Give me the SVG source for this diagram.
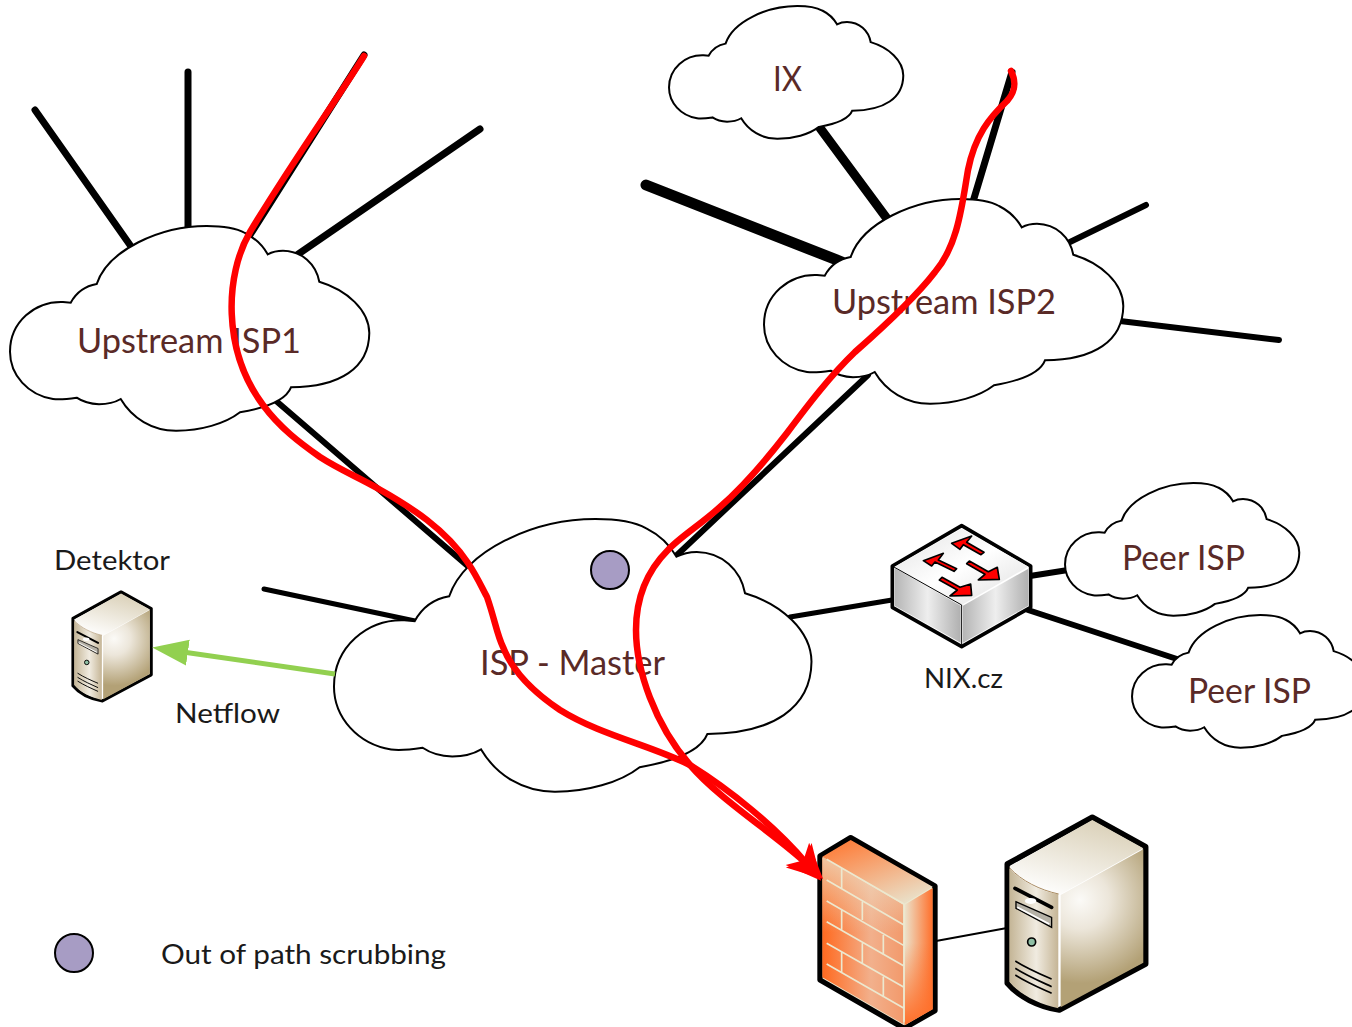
<svg xmlns="http://www.w3.org/2000/svg" width="1352" height="1027" viewBox="0 0 1352 1027">
<style>
.lbl{font-family:"Lato","Liberation Sans",sans-serif;font-size:35px;fill:#5a2a27}
.sm{font-family:"Lato","Liberation Sans",sans-serif;font-size:27px;fill:#1a1a1a}
.cl{fill:#fff;stroke:#000;stroke-width:2;vector-effect:non-scaling-stroke}
.k{stroke:#000;fill:none;stroke-linecap:round}
.red{stroke:#f00;stroke-width:6.5;fill:none;stroke-linecap:round;marker-end:url(#ra)}
.brick{stroke:#ece8cf;stroke-width:5;fill:none}
.dot{fill:#a79cc4;stroke:#000;stroke-width:2}
.sa{fill:#f00;stroke:#000;stroke-width:5;stroke-linejoin:round}
</style>
<defs>
<path id="cloud" class="cl" d="M70.7,302.7C76,293 85,286 96.7,284C108,250 160,226 206.7,226C222,226 236,228 245,233C255,238 263,246 267.7,254.3C272,252 278,250.7 283,250.7C302,251 316,264 319.3,281.7C347,290 369,310 369.3,333C369,368 340,387 291,387.3C286,400 265,408 240,412.3C225,424 200,430.7 176.7,430.7C152,431 132,418 120.7,399C114,403 106,404.3 99,404.3C90,404 83,402 76.7,397.7C68,399 60,400 53,399C28,395 10,375 10,351.7C10,322 35,301 63,302Z"/>
<marker id="ra" markerUnits="userSpaceOnUse" markerWidth="54" markerHeight="44" refX="13" refY="20" orient="auto" viewBox="0 0 54 44"><path d="M0,3L35,20L0,37L8,20Z" fill="#f00"/></marker>
<marker id="ga" markerUnits="userSpaceOnUse" markerWidth="50" markerHeight="40" refX="12" refY="14" orient="auto" viewBox="0 0 50 40"><path d="M0,1L36,14L0,27Z" fill="#92d050"/></marker>
<linearGradient id="svTop" x1="0.75" y1="0" x2="0.25" y2="1"><stop offset="0" stop-color="#d9cfb6"/><stop offset="1" stop-color="#fff"/></linearGradient>
<linearGradient id="svFront" x1="0" y1="0" x2="1" y2="0"><stop offset="0" stop-color="#c4b596"/><stop offset="0.55" stop-color="#f0ebe0"/><stop offset="1" stop-color="#c5b596"/></linearGradient>
<radialGradient id="svRight" gradientUnits="userSpaceOnUse" cx="900" cy="300" r="250"><stop offset="0" stop-color="#fbfaf7"/><stop offset="0.35" stop-color="#ece6da"/><stop offset="1" stop-color="#b3a176"/></radialGradient>
<linearGradient id="fwFront" x1="0" y1="0" x2="1" y2="0"><stop offset="0" stop-color="#ff6a20"/><stop offset="0.6" stop-color="#f2b08c"/><stop offset="1" stop-color="#f29a6c"/></linearGradient>
<linearGradient id="fwFade" x1="0" y1="0" x2="0" y2="1"><stop offset="0" stop-color="#ece4cc" stop-opacity=".75"/><stop offset="0.45" stop-color="#ece4cc" stop-opacity="0"/></linearGradient>
<linearGradient id="fwTop" x1="0.15" y1="0" x2="0.8" y2="1"><stop offset="0" stop-color="#ff7a35"/><stop offset="1" stop-color="#e9e3cd"/></linearGradient>
<linearGradient id="fwRight" x1="0" y1="0" x2="1" y2="0"><stop offset="0" stop-color="#ece3cc"/><stop offset="1" stop-color="#ff6f2a"/></linearGradient>
<linearGradient id="fwRight2" x1="0" y1="0" x2="0" y2="1"><stop offset="0.4" stop-color="#ff6f2a" stop-opacity="0"/><stop offset="1" stop-color="#ff6f2a"/></linearGradient>
<linearGradient id="swTop" x1="0" y1="0" x2="1" y2="1"><stop offset="0" stop-color="#e2e2e2"/><stop offset="0.5" stop-color="#fff"/><stop offset="1" stop-color="#ddd"/></linearGradient>
<linearGradient id="swSide" x1="0" y1="0" x2="1" y2="0"><stop offset="0" stop-color="#b5b5b5"/><stop offset="0.5" stop-color="#eee"/><stop offset="1" stop-color="#b0b0b0"/></linearGradient>
<g id="srv">
<path d="M682,192L937,52L1097,140V492L838,630C775,620 715,590 682,550Z" fill="#fff" stroke="#000" stroke-width="17" stroke-linejoin="round"/>
<path d="M688,200L937,60L1090,145L838,285C780,270 725,240 688,200Z" fill="url(#svTop)"/>
<path d="M688,205C725,245 780,272 835,283V625C775,612 720,585 688,545Z" fill="url(#svFront)"/>
<path d="M688,203C725,243 780,270 836,282" fill="none" stroke="#a88a60" stroke-width="3"/>
<path d="M842,285L1090,148V488L842,622Z" fill="url(#svRight)"/>
<path d="M705,265L815,322" stroke="#000" stroke-width="11" stroke-linecap="round" fill="none"/>
<path d="M708,305V325L815,382V352Z" fill="#b5b1a6" stroke="#000" stroke-width="4"/>
<path d="M712,322L808,372" stroke="#fff" stroke-width="5"/>
<ellipse cx="752" cy="303" rx="17" ry="9" fill="#fff"/>
<circle cx="755" cy="426" r="12" fill="#8fbfa5" stroke="#000" stroke-width="5"/>
<path d="M706,483C740,505 780,522 815,537M706,505C740,527 780,544 815,560M706,525C740,547 780,564 815,580" fill="none" stroke="#000" stroke-width="5"/>
</g>
</defs>

<g id="connectors">
<g class="k">
<path stroke-width="7" d="M35,110L130,245M188,72V228M364,55L250,235M480,129L297,255"/>
<path stroke-width="6" d="M275,400L470,568"/>
<path stroke-width="11" d="M646,185L842,262"/>
<path stroke-width="9" d="M820,128L888,220"/>
<path stroke-width="7" d="M1012,72L972,205"/>
<path stroke-width="6" d="M1146,205L1070,242M1279,340L1120,321M868,375L677,555"/>
<path stroke-width="5" d="M264,589L415,621M790,617L892,600"/>
<path stroke-width="6" d="M1030,576L1068,570M1028,610L1180,660"/>
<path stroke-width="2" d="M936,941L1007,928"/>
</g>
</g>

<g id="isp1"><use href="#cloud"/><text class="lbl" x="77" y="353" textLength="224" lengthAdjust="spacingAndGlyphs">Upstream ISP1</text></g>
<g id="isp2"><use href="#cloud" transform="translate(754,-27)"/><text class="lbl" x="832" y="314" textLength="224" lengthAdjust="spacingAndGlyphs">Upstream ISP2</text></g>
<g id="ix"><use href="#cloud" transform="translate(662.5,-140.7) scale(.652,.649)"/><text class="lbl" x="773" y="91" textLength="29" lengthAdjust="spacingAndGlyphs">IX</text></g>
<g id="peer1"><use href="#cloud" transform="translate(1058.5,336.3) scale(.652,.649)"/><text class="lbl" x="1122" y="570" textLength="123" lengthAdjust="spacingAndGlyphs">Peer ISP</text></g>
<g id="peer2"><use href="#cloud" transform="translate(1125.5,468.3) scale(.652,.649)"/><text class="lbl" x="1188" y="703" textLength="123" lengthAdjust="spacingAndGlyphs">Peer ISP</text></g>
<g id="master"><use href="#cloud" transform="translate(320.7,218) scale(1.329,1.332)"/><text class="lbl" x="480" y="675" textLength="185" lengthAdjust="spacingAndGlyphs">ISP - Master</text></g>

<g id="scrub-dot"><circle class="dot" cx="610" cy="570" r="19"/></g>

<g id="switch" transform="translate(880,510) scale(.3333)">
<path d="M245,47L452,168V292L245,410L37,292V168Z" fill="#fff" stroke="#000" stroke-width="11" stroke-linejoin="round"/>
<path d="M245,56L445,170L245,285L45,170Z" fill="url(#swTop)"/>
<path d="M44,174L242,287V398L44,287Z" fill="url(#swSide)"/>
<path d="M249,287L445,176V287L249,398Z" fill="url(#swSide)"/>
<path d="M40,170L245,285V405" fill="none" stroke="#000" stroke-width="3"/>
<path class="sa" d="M215,100L275,78L260,97L312,127L303,134L250,104L240,118Z"/>
<path class="sa" d="M130,152L190,130L175,150L230,176L222,184L165,156L155,168Z"/>
<path class="sa" d="M358,208L295,210L315,193L260,161L268,153L325,185L352,172Z"/>
<path class="sa" d="M275,256L210,258L232,240L178,210L186,202L240,232L272,222Z"/>
</g>
<g id="nix-label"><text class="sm" x="924" y="688" textLength="79" lengthAdjust="spacingAndGlyphs">NIX.cz</text></g>

<g id="detektor"><use href="#srv" transform="translate(-55.4,582.2) scale(.1883)"/><text class="sm" x="54" y="570" textLength="116" lengthAdjust="spacingAndGlyphs">Detektor</text></g>

<g id="server"><use href="#srv" transform="translate(780,800) scale(.3333)"/></g>

<g id="firewall" transform="translate(780,800) scale(.3333)">
<path d="M120,168L212,113L465,258V632L372,685L120,540Z" fill="#ece8cf" stroke="#000" stroke-width="16" stroke-linejoin="round"/>
<path d="M127,170L212,120L458,260L372,312Z" fill="url(#fwTop)"/>
<path d="M127,172L370,314V672L127,532Z" fill="url(#fwFront)"/>
<path d="M127,172L370,314V672L127,532Z" fill="url(#fwFade)"/>
<path d="M374,314L458,264V628L374,676Z" fill="url(#fwRight)"/>
<path d="M374,314L458,264V628L374,676Z" fill="url(#fwRight2)"/>
<path class="brick" d="M140,178L372,312M140,240L372,375M140,303L372,437M140,365L372,498M140,430L372,562M140,492L372,625M372,312V665M185,205V265M247,305V360M185,330V392M310,405V465M247,430V492M185,455V517M310,530V592"/>
</g>

<g id="legend"><circle class="dot" cx="74" cy="953" r="19"/><text class="sm" x="161" y="964" textLength="285" lengthAdjust="spacingAndGlyphs">Out of path scrubbing</text></g>

<g id="flows">
<path d="M335,674L176,651" stroke="#92d050" stroke-width="5" fill="none" marker-end="url(#ga)"/>
<path class="red" d="M364,56C340,95 290,165 250,232C225,275 222,350 263,405C280,428 300,443 320,457C340,470 358,477 377,488C395,498 410,507 427,520C445,534 458,548 468,563C478,578 483,590 487,597C495,620 497,635 503,647C512,670 530,690 560,710C600,735 650,745 690,765C730,790 775,826 807,864"/>
<path class="red" d="M1011,71C1017,83 1015,92 1007,101C990,117 975,135 968,170C962,205 958,245 935,272C915,298 880,330 855,352C830,376 808,405 787,433C770,455 745,485 720,507C700,525 680,537 668,550C648,570 636,595 636,630C636,670 655,725 690,765C720,800 775,834 807,864"/>
</g>
<g id="netflow-label"><text class="sm" x="175" y="723" textLength="105" lengthAdjust="spacingAndGlyphs">Netflow</text></g>
</svg>
